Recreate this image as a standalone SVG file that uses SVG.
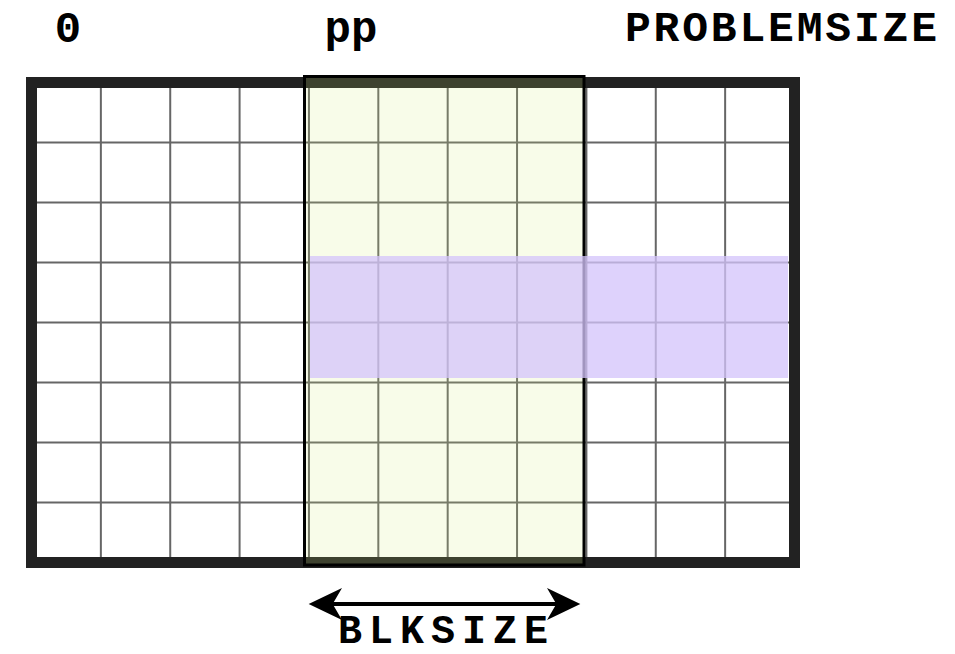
<svg xmlns="http://www.w3.org/2000/svg" width="955" height="654" viewBox="0 0 955 654">
  <style>
    .lbl { font-family: "Liberation Mono", "Courier New", monospace; font-weight: bold; fill: #000; }
    .grid line { stroke: #666666; stroke-width: 2; }
  </style>
  <defs>
    <marker id="head" markerUnits="userSpaceOnUse" markerWidth="40" markerHeight="40" viewBox="-20 -15 30 30" refX="0" refY="0" orient="auto-start-reverse">
      <path d="M7,0 L-18,-12 L-11,0 L-18,12 Z" fill="#000"/>
    </marker>
  </defs>
  <rect width="955" height="654" fill="#ffffff"/>

  <g id="grid" class="grid">
    <line x1="100.86" y1="82.5" x2="100.86" y2="562.5"/>
    <line x1="170.23" y1="82.5" x2="170.23" y2="562.5"/>
    <line x1="239.59" y1="82.5" x2="239.59" y2="562.5"/>
    <line x1="308.95" y1="82.5" x2="308.95" y2="562.5"/>
    <line x1="378.32" y1="82.5" x2="378.32" y2="562.5"/>
    <line x1="447.68" y1="82.5" x2="447.68" y2="562.5"/>
    <line x1="517.05" y1="82.5" x2="517.05" y2="562.5"/>
    <line x1="586.41" y1="82.5" x2="586.41" y2="562.5"/>
    <line x1="655.77" y1="82.5" x2="655.77" y2="562.5"/>
    <line x1="725.14" y1="82.5" x2="725.14" y2="562.5"/>
    <line x1="31.5" y1="142.5" x2="794.5" y2="142.5"/>
    <line x1="31.5" y1="202.5" x2="794.5" y2="202.5"/>
    <line x1="31.5" y1="262.5" x2="794.5" y2="262.5"/>
    <line x1="31.5" y1="322.5" x2="794.5" y2="322.5"/>
    <line x1="31.5" y1="382.5" x2="794.5" y2="382.5"/>
    <line x1="31.5" y1="442.5" x2="794.5" y2="442.5"/>
    <line x1="31.5" y1="502.5" x2="794.5" y2="502.5"/>
  </g>

  <g id="frame">
    <rect x="31.5" y="82.5" width="763" height="480" fill="none" stroke="#222222" stroke-width="11"/>
  </g>

  <g id="block">
    <rect x="304.5" y="76.5" width="279.5" height="488.5" fill="rgb(212,237,120)" fill-opacity="0.16" stroke="#000" stroke-width="3"/>
  </g>

  <g id="row-band">
    <rect x="310" y="256" width="478" height="122" fill="rgb(212,196,251)" fill-opacity="0.76"/>
  </g>

  <g id="connectors">
    <line x1="318" y1="604" x2="571" y2="604" stroke="#000" stroke-width="4" marker-start="url(#head)" marker-end="url(#head)"/>
  </g>

  <g id="labels">
    <text class="lbl" x="68" y="42" font-size="44" text-anchor="middle">0</text>
    <text class="lbl" x="351" y="42" font-size="44" text-anchor="middle">pp</text>
    <text class="lbl" x="781" y="41" font-size="43" text-anchor="middle" textLength="312" lengthAdjust="spacing">PROBLEMSIZE</text>
    <text class="lbl" x="443" y="643" font-size="40" text-anchor="middle" textLength="210" lengthAdjust="spacing">BLKSIZE</text>
  </g>
</svg>
